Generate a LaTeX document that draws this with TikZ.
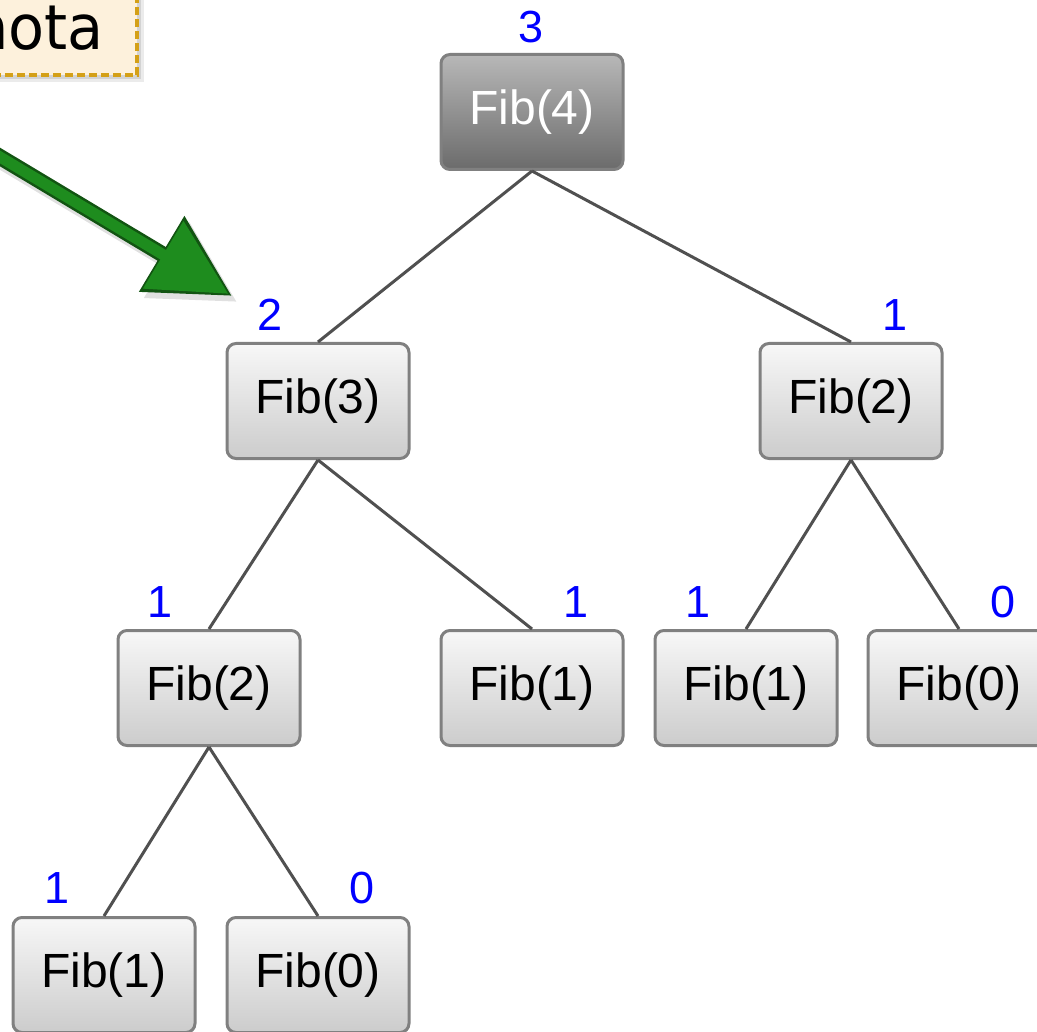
\documentclass[tikz,border=0pt]{standalone}
\usepackage{fontspec}
\setmainfont{Liberation Sans}
\newfontfamily\notefont[FakeStretch=0.95]{DejaVu Sans}
\usetikzlibrary{arrows.meta,shadows,calc}
\definecolor{boxedge}{HTML}{808080}
\definecolor{edgecol}{HTML}{505050}
\definecolor{lbl}{HTML}{0000FF}
\definecolor{notefill}{HTML}{FDF1DC}
\definecolor{notedraw}{HTML}{D4A017}
\definecolor{arrowgreen}{HTML}{1E8C1E}
\begin{document}
\begin{tikzpicture}[x=1pt,y=-1pt,
  fibbox/.style={draw=boxedge, line width=3pt, rounded corners=9pt,
    minimum width=182pt, minimum height=115pt, inner sep=0pt,
    top color=white!97!black, bottom color=white!80!black,
    font=\fontsize{48}{50}\selectfont, text=black},
  rootbox/.style={fibbox, top color=white!72!black, bottom color=white!42!black, text=white},
  val/.style={text=lbl, font=\fontsize{45}{47}\selectfont, inner sep=0pt},
  tedge/.style={draw=edgecol, line width=3pt}]
\useasboundingbox (0,0) rectangle (1037,1032);

% note box
\fill[black, opacity=0.08] (-20,-20) rectangle (144,82);
\fill[black, opacity=0.10] (-20,-20) rectangle (141,79);
\draw[notedraw, fill=notefill, line width=3.5pt, dash pattern=on 8pt off 4pt]
  (-20,-20) rectangle (137,75);
\node[anchor=base east, inner sep=0pt, font=\notefont\fontsize{62}{64}\selectfont] (note) at (104,50) {nota};

% green arrow
\coordinate (arrS) at (-10,151);
\coordinate (arrT) at (232,296);
\coordinate (arrT2) at ($(arrS)!0.985!(arrT)$);
\coordinate (shS) at (-6,157);
\coordinate (shT) at (237,302);
\draw[black, opacity=0.12, line width=16pt, -{Triangle[length=82pt,width=84pt]}] (shS) -- (shT);
\draw[arrowgreen!60!black, line width=16pt, -{Triangle[length=82pt,width=84pt]}] (arrS) -- (arrT);
\draw[arrowgreen, line width=11pt, -{Triangle[length=76pt,width=76pt]}] (arrS) -- (arrT2);

% nodes
\node[rootbox] (f4) at (532,112) {Fib(4)};
\node[fibbox] (f3) at (318,401) {Fib(3)};
\node[fibbox] (f2r) at (851,401) {Fib(2)};
\node[fibbox] (f2l) at (209,688) {Fib(2)};
\node[fibbox] (f1m) at (532,688) {Fib(1)};
\node[fibbox] (f1r) at (746,688) {Fib(1)};
\node[fibbox] (f0r) at (959,688) {Fib(0)};
\node[fibbox] (f1b) at (104,975) {Fib(1)};
\node[fibbox] (f0b) at (318,975) {Fib(0)};

% edges
\draw[tedge] (f4.south) -- (f3.north);
\draw[tedge] (f4.south) -- (f2r.north);
\draw[tedge] (f3.south) -- (f2l.north);
\draw[tedge] (f3.south) -- (f1m.north);
\draw[tedge] (f2r.south) -- (f1r.north);
\draw[tedge] (f2r.south) -- (f0r.north);
\draw[tedge] (f2l.south) -- (f1b.north);
\draw[tedge] (f2l.south) -- (f0b.north);

% values
\node[val] (v4) at (531,27) {3};
\node[val] (v3) at (270,315) {2};
\node[val] (v2r) at (895,315) {1};
\node[val] (v2l) at (160,602) {1};
\node[val] (v1m) at (576,602) {1};
\node[val] (v1r) at (698,602) {1};
\node[val] (v0r) at (1003,602) {0};
\node[val] (v1b) at (57,888) {1};
\node[val] (v0b) at (362,888) {0};
\end{tikzpicture}
\end{document}
